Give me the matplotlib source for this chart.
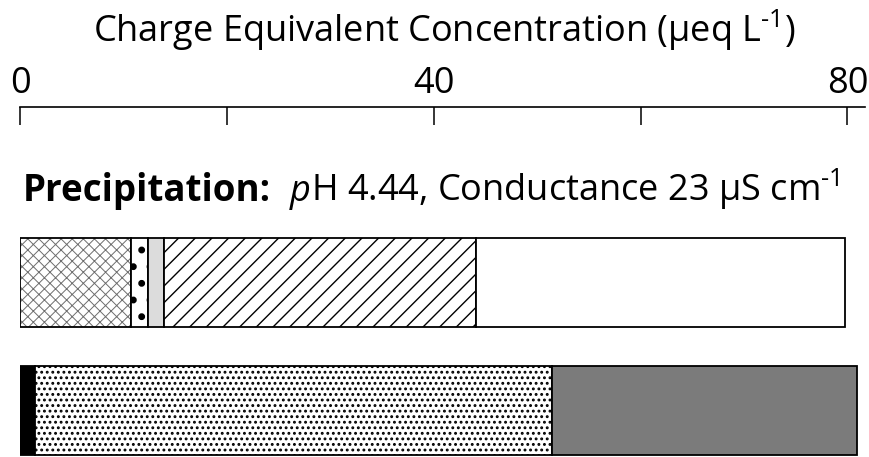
import matplotlib
matplotlib.use("Agg")
import matplotlib.pyplot as plt
from matplotlib.offsetbox import TextArea, HPacker, AnchoredOffsetbox

plt.rcParams['font.family'] = ['Open Sans', 'DejaVu Sans']
plt.rcParams['mathtext.fontset'] = 'custom'
plt.rcParams['mathtext.rm'] = 'Open Sans'
plt.rcParams['mathtext.it'] = 'Open Sans:italic'

# ---- data ----
rows = ["top", "bottom"]
top_values = [10.7, 1.65, 1.55, 30.2, 35.7]
top_hatches = ["xxx", ".", "", "//", ""]
top_fills = ["white", "white", "#dcdcdc", "white", "white"]
top_hatch_colors = ["#6e6e6e", "black", "black", "black", "black"]
bottom_values = [1.45, 50.0, 29.5]
bottom_hatches = ["", "...", ""]
bottom_fills = ["black", "white", "#7b7b7b"]
bottom_hatch_colors = ["black", "black", "black"]
ticks = [0, 20, 40, 60, 80]
tick_labels = ["0", "", "40", "", "80"]
title = r"Charge Equivalent Concentration (μeq L$^{\text{-}1}$)"

hatch_lw = {"xxx": 0.7, ".": 2.5, "//": 1.0, "...": 1.3, "": 1.0}

W, H = 869, 457
fig = plt.figure(figsize=(W / 100, H / 100), dpi=100)
ax = fig.add_axes([20 / W, 0, (865 - 20) / W, (H - 107) / H])
ax.set_xlim(0, 81.7)
ax.set_ylim(1.363, -1.371)
bar_h = 0.69

def draw_row(y, values, hatches, fills, hcolors):
    left = 0
    for v, h, f, hc in zip(values, hatches, fills, hcolors):
        with plt.rc_context({'hatch.linewidth': hatch_lw[h]}):
            ax.barh(y, v, left=left, height=bar_h, color=f, hatch=h,
                    edgecolor=hc, linewidth=0)
        ax.barh(y, v, left=left, height=bar_h, fill=False,
                edgecolor="black", linewidth=1.3)
        left += v

draw_row(0, top_values, top_hatches, top_fills, top_hatch_colors)
draw_row(1, bottom_values, bottom_hatches, bottom_fills, bottom_hatch_colors)

for s in ["bottom", "left", "right"]:
    ax.spines[s].set_visible(False)
ax.spines["top"].set_linewidth(1.2)
ax.set_yticks([])
ax.xaxis.set_ticks_position("top")
ax.set_xticks(ticks)
ax.set_xticklabels(tick_labels)
ax.tick_params(axis="x", direction="in", length=13, width=1.1, pad=3.5,
               labelsize=26)

fig.text(444 / W, 1 - 42 / H, title, ha="center", va="baseline", fontsize=26)

parts = [
    TextArea("Precipitation:", textprops=dict(fontsize=26.5, fontweight="bold")),
    TextArea("  ", textprops=dict(fontsize=26)),
    TextArea("p", textprops=dict(fontsize=26, style="italic")),
    TextArea(r"H 4.44, Conductance 23 μS cm$^{\text{-}1}$", textprops=dict(fontsize=26)),
]
box = HPacker(children=parts, align="baseline", pad=0, sep=0)
anch = AnchoredOffsetbox(loc="lower left", child=box, frameon=False,
                         bbox_to_anchor=(23 / W, 1 - 212 / H),
                         bbox_transform=fig.transFigure, borderpad=0, pad=0)
fig.add_artist(anch)

fig.savefig("out.png", dpi=100)
